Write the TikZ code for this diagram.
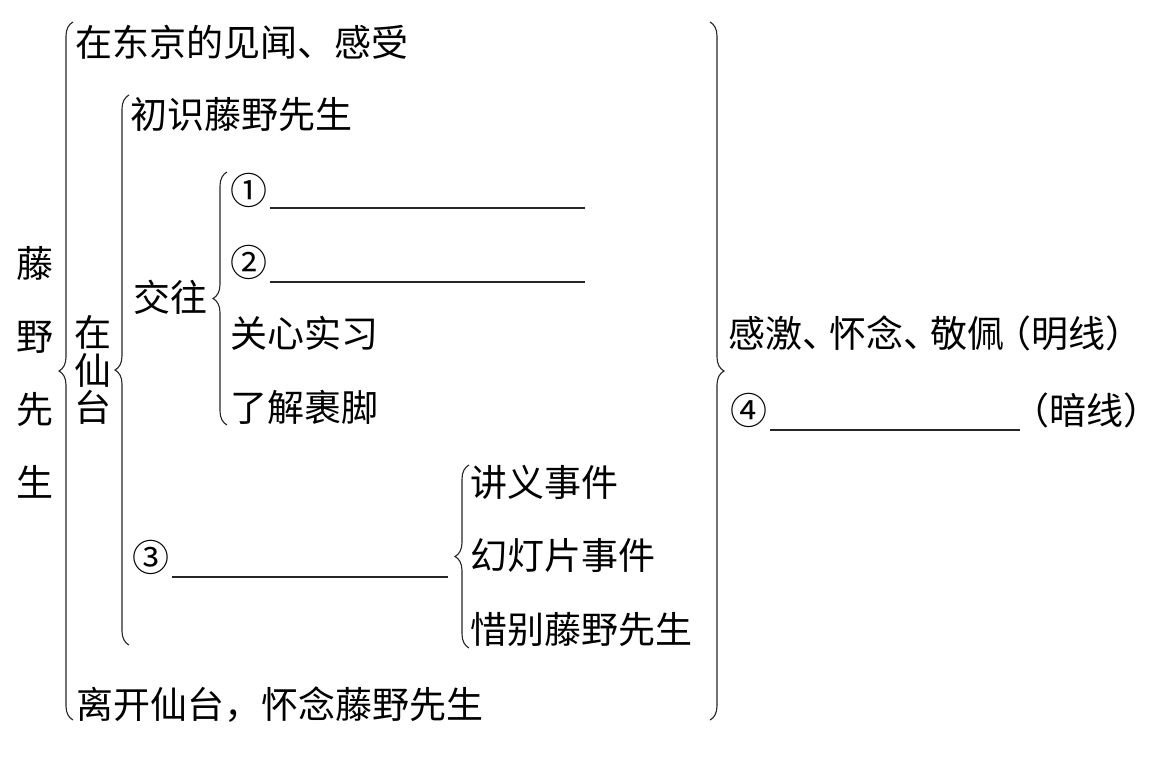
\documentclass[tikz,border=0pt]{standalone}
\usepackage{fontspec}
\newfontfamily\cjk{Noto Sans CJK SC}
\usetikzlibrary{decorations.pathreplacing}
\begin{document}
\begin{tikzpicture}[x=1pt,y=-1pt,
  txt/.style={font=\cjk\fontsize{37}{44}\selectfont, inner sep=0pt, anchor=west},
  vtxt/.style={font=\cjk\fontsize{37}{#1}\selectfont, inner sep=0pt, align=center},
  brc/.style={decorate, decoration={brace, amplitude=14pt}, line width=1.1pt, draw=black!85},
  blank/.style={line width=1.1pt, draw=black!85}]
\useasboundingbox[fill=white] (0,0) rectangle (1160,761);

% vertical labels
\node[vtxt=73] (tengye) at (35,372) {藤\\野\\先\\生};
\node[vtxt=37.5] (xiantai) at (93,370) {在\\仙\\台};

% outer left brace
\coordinate (b1s) at (73,720); \coordinate (b1e) at (73,22);
\draw[brc] (b1s) -- (b1e);
\node[txt] (tokyo) at (75,42) {在东京的见闻、感受};
\node[txt] (leave) at (76,705) {离开仙台，怀念藤野先生};

% second brace
\coordinate (b2s) at (129,645); \coordinate (b2e) at (129,95);
\draw[brc] (b2s) -- (b2e);
\node[txt] (first) at (130,115) {初识藤野先生};
\node[txt] (jiaowang) at (133,297) {交往};
\node[txt] (n3) at (132,557) {③};
\coordinate (l3a) at (172,577); \coordinate (l3b) at (448,577);
\draw[blank] (l3a) -- (l3b);

% third brace
\coordinate (b3s) at (227,425); \coordinate (b3e) at (227,172);
\draw[brc] (b3s) -- (b3e);
\node[txt] (n1) at (230,190) {①};
\coordinate (l1a) at (270,208); \coordinate (l1b) at (585,208);
\draw[blank] (l1a) -- (l1b);
\node[txt] (n2) at (230,262) {②};
\coordinate (l2a) at (270,282); \coordinate (l2b) at (585,282);
\draw[blank] (l2a) -- (l2b);
\node[txt] (shixi) at (230,333) {关心实习};
\node[txt] (guojiao) at (230,407) {了解裹脚};

% fourth brace
\coordinate (b4s) at (469,648); \coordinate (b4e) at (469,465);
\draw[brc] (b4s) -- (b4e);
\node[txt] (jiangyi) at (470,482) {讲义事件};
\node[txt] (huandeng) at (470,555) {幻灯片事件};
\node[txt] (xibie) at (470,630) {惜别藤野先生};

% right brace
\coordinate (b5s) at (710,22); \coordinate (b5e) at (710,720);
\draw[brc] (b5s) -- (b5e);
\node[txt] (ming) at (728,333) {感激、\kern-10pt 怀念、\kern-10pt 敬佩\kern-10pt（明线）};
\node[txt] (n4) at (730,410) {④};
\coordinate (l4a) at (770,430); \coordinate (l4b) at (1020,430);
\draw[blank] (l4a) -- (l4b);
\node[txt] (an) at (1012,410) {（暗线）};
\end{tikzpicture}
\end{document}
